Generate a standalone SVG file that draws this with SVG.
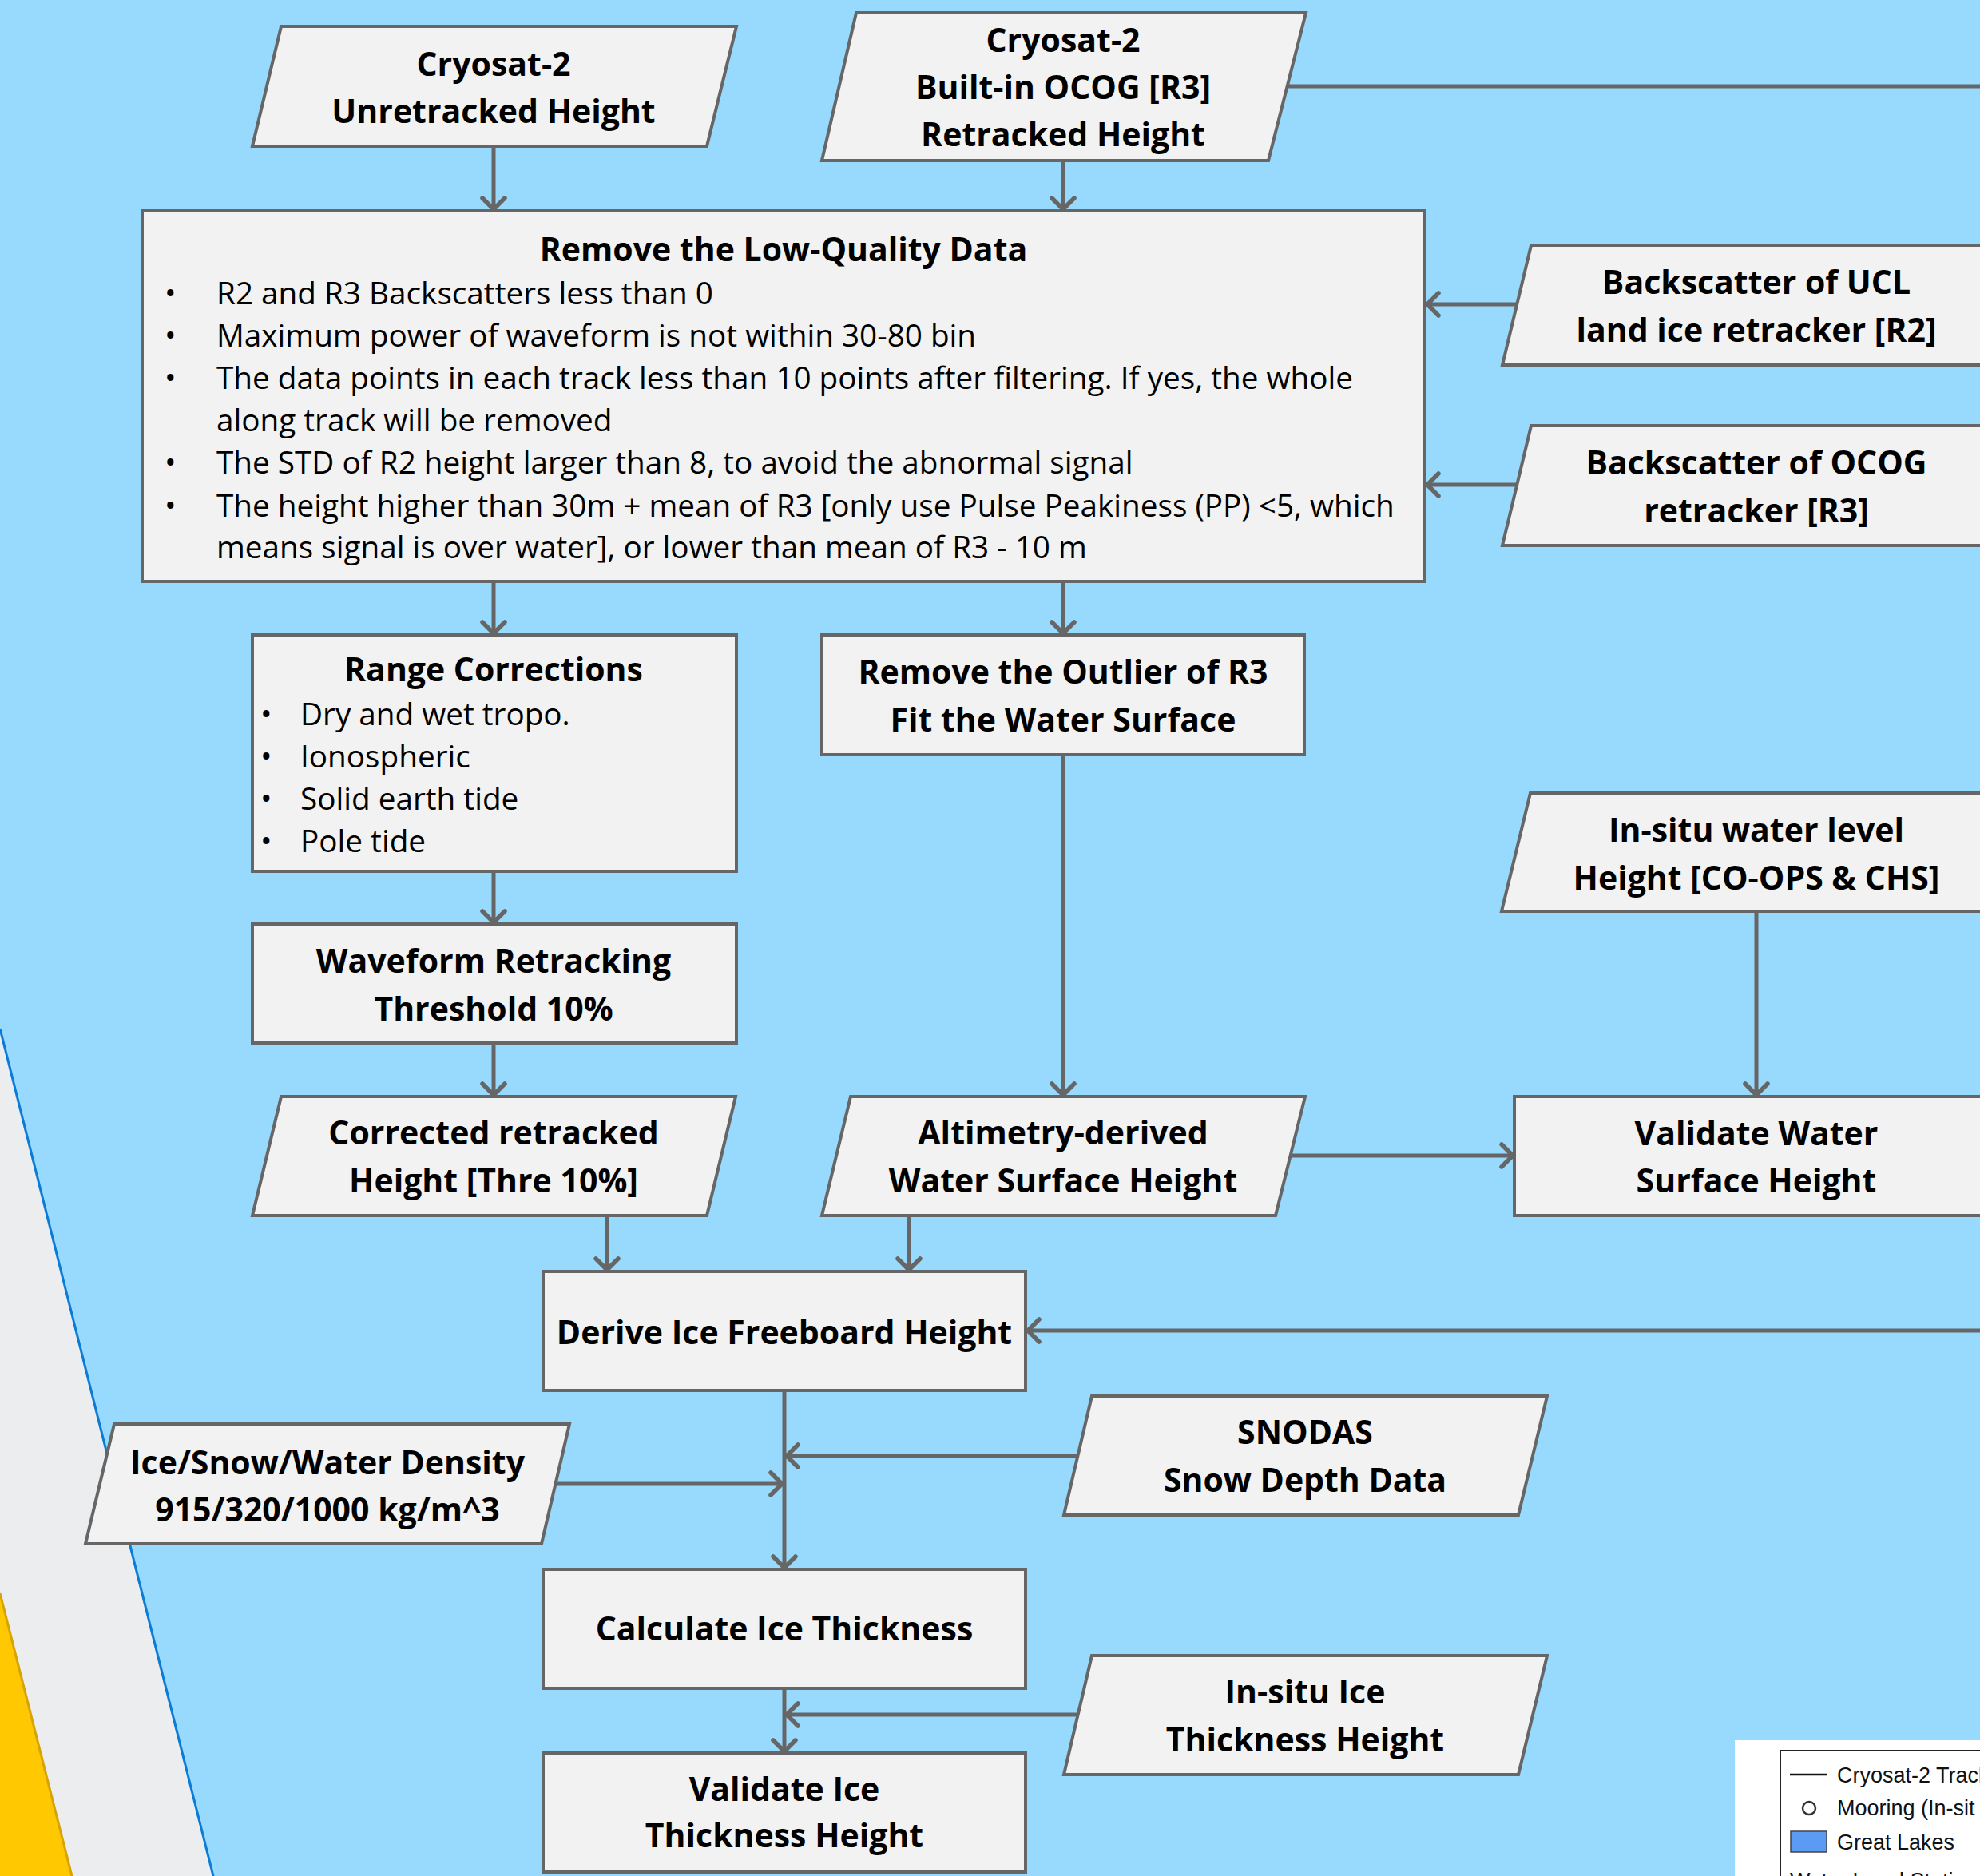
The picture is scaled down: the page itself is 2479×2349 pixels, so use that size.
<svg xmlns="http://www.w3.org/2000/svg" width="2479" height="2349" viewBox="0 0 2479 2349">
<defs>
<style>
.node{fill:#F2F2F2;stroke:#666666;stroke-width:4}
.t{font-family:"Open Sans","Liberation Sans",sans-serif;font-weight:bold;font-size:41px;fill:#000;text-anchor:middle}
.b{font-family:"Open Sans","Liberation Sans",sans-serif;font-size:38.7px;fill:#000}
.conn{stroke:#666666;stroke-width:5;fill:none}
.lg{font-family:"Liberation Sans",Arial,sans-serif;font-size:27px;fill:#111}
</style>
<marker id="arr" viewBox="-20 -20 40 40" markerWidth="40" markerHeight="40" refX="0" refY="0" orient="auto" markerUnits="userSpaceOnUse">
<path d="M-14,-14 L0,0 L-14,14" fill="none" stroke="#666666" stroke-width="5.5" stroke-linecap="round" stroke-linejoin="round"/>
</marker>
</defs>
<rect x="0" y="0" width="2479" height="2349" fill="#97DAFE"/>
<g id="background-shapes">
<polygon points="0,1288 267,2349 0,2349" fill="#EBEDEF"/>
<line x1="0" y1="1288" x2="267" y2="2349" stroke="#0A7BD6" stroke-width="3"/>
<polygon points="0,1995 90,2349 0,2349" fill="#FFC800"/>
<line x1="0" y1="1995" x2="90" y2="2349" stroke="#D6A300" stroke-width="3"/>
</g>
<g id="connectors">
<line class="conn" x1="618" y1="183" x2="618" y2="262" marker-end="url(#arr)"/>
<line class="conn" x1="1331" y1="201" x2="1331" y2="262" marker-end="url(#arr)"/>
<line class="conn" x1="1612" y1="108" x2="2479" y2="108"/>
<line class="conn" x1="1899" y1="381" x2="1787" y2="381" marker-end="url(#arr)"/>
<line class="conn" x1="1899" y1="607" x2="1787" y2="607" marker-end="url(#arr)"/>
<line class="conn" x1="618" y1="729" x2="618" y2="793" marker-end="url(#arr)"/>
<line class="conn" x1="1331" y1="729" x2="1331" y2="793" marker-end="url(#arr)"/>
<line class="conn" x1="618" y1="1091" x2="618" y2="1155" marker-end="url(#arr)"/>
<line class="conn" x1="618" y1="1306" x2="618" y2="1371" marker-end="url(#arr)"/>
<line class="conn" x1="1331" y1="945" x2="1331" y2="1371" marker-end="url(#arr)"/>
<line class="conn" x1="2199" y1="1141" x2="2199" y2="1371" marker-end="url(#arr)"/>
<line class="conn" x1="1616" y1="1447" x2="1894" y2="1447" marker-end="url(#arr)"/>
<line class="conn" x1="760" y1="1522" x2="760" y2="1590" marker-end="url(#arr)"/>
<line class="conn" x1="1138" y1="1522" x2="1138" y2="1590" marker-end="url(#arr)"/>
<line class="conn" x1="2479" y1="1666" x2="1287" y2="1666" marker-end="url(#arr)"/>
<line class="conn" x1="982" y1="1741" x2="982" y2="1963" marker-end="url(#arr)"/>
<line class="conn" x1="1349" y1="1823" x2="985" y2="1823" marker-end="url(#arr)"/>
<line class="conn" x1="696" y1="1858" x2="979" y2="1858" marker-end="url(#arr)"/>
<line class="conn" x1="982" y1="2114" x2="982" y2="2193" marker-end="url(#arr)"/>
<line class="conn" x1="1349" y1="2147" x2="985" y2="2147" marker-end="url(#arr)"/>
</g>
<g id="node-cryosat-unretracked">
<polygon class="node" points="352,33 922,33 885,183 316,183"/>
<text class="t" x="618" y="95">Cryosat-2</text>
<text class="t" x="618" y="154">Unretracked Height</text>
</g>
<g id="node-cryosat-ocog">
<polygon class="node" points="1072,16 1635,16 1588,201 1029,201"/>
<text class="t" x="1331" y="65">Cryosat-2</text>
<text class="t" x="1331" y="124">Built-in OCOG [R3]</text>
<text class="t" x="1331" y="183">Retracked Height</text>
</g>
<g id="node-remove-low-quality">
<rect class="node" x="178" y="264" width="1605" height="464"/>
<text class="t" x="981" y="327">Remove the Low-Quality Data</text>
<g class="b">
<text x="206" y="381">•</text><text x="271" y="381">R2 and R3 Backscatters less than 0</text>
<text x="206" y="434">•</text><text x="271" y="434">Maximum power of waveform is not within 30-80 bin</text>
<text x="206" y="487">•</text><text x="271" y="487">The data points in each track less than 10 points after filtering. If yes, the whole</text>
<text x="271" y="540">along track will be removed</text>
<text x="206" y="593">•</text><text x="271" y="593">The STD of R2 height larger than 8, to avoid the abnormal signal</text>
<text x="206" y="647">•</text><text x="271" y="647">The height higher than 30m + mean of R3 [only use Pulse Peakiness (PP) &lt;5, which</text>
<text x="271" y="699">means signal is over water], or lower than mean of R3 - 10 m</text>
</g>
</g>
<g id="node-backscatter-ucl">
<polygon class="node" points="1917,307 2600,307 2600,457 1881,457"/>
<text class="t" x="2199" y="368">Backscatter of UCL</text>
<text class="t" x="2199" y="428">land ice retracker [R2]</text>
</g>
<g id="node-backscatter-ocog">
<polygon class="node" points="1917,533 2600,533 2600,683 1881,683"/>
<text class="t" x="2199" y="594">Backscatter of OCOG</text>
<text class="t" x="2199" y="654">retracker [R3]</text>
</g>
<g id="node-range-corrections">
<rect class="node" x="316" y="795" width="606" height="296"/>
<text class="t" x="618" y="853">Range Corrections</text>
<g class="b">
<text x="326" y="908">•</text><text x="376" y="908">Dry and wet tropo.</text>
<text x="326" y="961">•</text><text x="376" y="961">Ionospheric</text>
<text x="326" y="1014">•</text><text x="376" y="1014">Solid earth tide</text>
<text x="326" y="1067">•</text><text x="376" y="1067">Pole tide</text>
</g>
</g>
<g id="node-remove-outlier">
<rect class="node" x="1029" y="795" width="604" height="150"/>
<text class="t" x="1331" y="856">Remove the Outlier of R3</text>
<text class="t" x="1331" y="916">Fit the Water Surface</text>
</g>
<g id="node-waveform-retracking">
<rect class="node" x="316" y="1157" width="606" height="149"/>
<text class="t" x="618" y="1218">Waveform Retracking</text>
<text class="t" x="618" y="1278">Threshold 10%</text>
</g>
<g id="node-insitu-water">
<polygon class="node" points="1916,993 2600,993 2600,1141 1880,1141"/>
<text class="t" x="2199" y="1054">In-situ water level</text>
<text class="t" x="2199" y="1114">Height [CO-OPS &amp; CHS]</text>
</g>
<g id="node-corrected-retracked">
<polygon class="node" points="352,1373 921,1373 885,1522 316,1522"/>
<text class="t" x="618" y="1433">Corrected retracked</text>
<text class="t" x="618" y="1493">Height [Thre 10%]</text>
</g>
<g id="node-altimetry-wsh">
<polygon class="node" points="1065,1373 1634,1373 1597,1522 1029,1522"/>
<text class="t" x="1331" y="1433">Altimetry-derived</text>
<text class="t" x="1331" y="1493">Water Surface Height</text>
</g>
<g id="node-validate-water">
<rect class="node" x="1896" y="1373" width="700" height="149"/>
<text class="t" x="2199" y="1434">Validate Water</text>
<text class="t" x="2199" y="1493">Surface Height</text>
</g>
<g id="node-derive-freeboard">
<rect class="node" x="680" y="1592" width="604" height="149"/>
<text class="t" x="982" y="1683">Derive Ice Freeboard Height</text>
</g>
<g id="node-density">
<polygon class="node" points="143,1783 713,1783 678,1933 107,1933"/>
<text class="t" x="410" y="1846">Ice/Snow/Water Density</text>
<text class="t" x="410" y="1905">915/320/1000 kg/m^3</text>
</g>
<g id="node-snodas">
<polygon class="node" points="1367,1748 1937,1748 1901,1897 1332,1897"/>
<text class="t" x="1634" y="1808">SNODAS</text>
<text class="t" x="1634" y="1868">Snow Depth Data</text>
</g>
<g id="node-calculate-thickness">
<rect class="node" x="680" y="1965" width="604" height="149"/>
<text class="t" x="982" y="2054">Calculate Ice Thickness</text>
</g>
<g id="node-insitu-ice">
<polygon class="node" points="1367,2073 1937,2073 1901,2222 1332,2222"/>
<text class="t" x="1634" y="2133">In-situ Ice</text>
<text class="t" x="1634" y="2193">Thickness Height</text>
</g>
<g id="node-validate-ice">
<rect class="node" x="680" y="2195" width="604" height="149"/>
<text class="t" x="982" y="2255">Validate Ice</text>
<text class="t" x="982" y="2313">Thickness Height</text>
</g>
<g id="legend">
<rect x="2172" y="2179" width="320" height="200" fill="#FFFFFF"/>
<rect x="2229" y="2192" width="300" height="200" fill="none" stroke="#222" stroke-width="2"/>
<line x1="2241" y1="2222" x2="2288" y2="2222" stroke="#111" stroke-width="2.5"/>
<text class="lg" x="2300" y="2232">Cryosat-2 Track</text>
<circle cx="2265" cy="2264" r="8" fill="#FFF" stroke="#333" stroke-width="2.5"/>
<text class="lg" x="2300" y="2273">Mooring (In-sit</text>
<rect x="2242" y="2293" width="45" height="26" fill="#5B9BF4" stroke="#444" stroke-width="1.5"/>
<text class="lg" x="2300" y="2316">Great Lakes</text>
<text class="lg" x="2241" y="2364">Water Level Stati</text>
</g>
</svg>
